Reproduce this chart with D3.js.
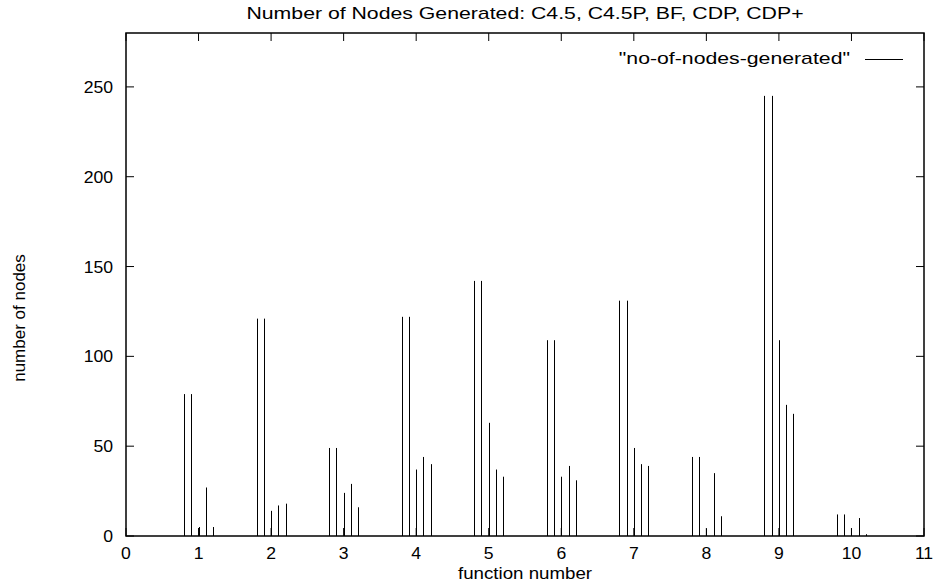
<!DOCTYPE html>
<html>
<head>
<meta charset="utf-8">
<script src="https://cdn.jsdelivr.net/npm/d3@7"></script>
<style>
  body { margin: 0; background: #fff; }
  svg { display: block; font-family: "Liberation Sans", Arial, sans-serif; }
</style>
</head>
<body>
<div id="chart"></div>
<script>
// function numbers along the x axis, and where each of the 5 algorithms sits around it
const functionNumbers = [1, 2, 3, 4, 5, 6, 7, 8, 9, 10];
const algorithmOffsets = [-0.2, -0.1, 0, 0.1, 0.2]; // C4.5, C4.5P, BF, CDP, CDP+

// nodes generated, one row per function: C4.5, C4.5P, BF, CDP, CDP+
const nodesGenerated = [
  [79, 79, 5, 27, 5],
  [121, 121, 14, 17, 18],
  [49, 49, 24, 29, 16],
  [122, 122, 37, 44, 40],
  [142, 142, 63, 37, 33],
  [109, 109, 33, 39, 31],
  [131, 131, 49, 40, 39],
  [44, 44, 4, 35, 11],
  [245, 245, 109, 73, 68],
  [12, 12, 4, 10, 1]
];

const xTicks = d3.range(0, 12);
const yTicks = [0, 50, 100, 150, 200, 250];

const width = 937, height = 586;
const margin = { top: 33, right: 13, bottom: 50, left: 126 };
const innerW = width - margin.left - margin.right,
    innerH = height - margin.top - margin.bottom;

const svg = d3.select('#chart').append('svg')
  .attr('width', width)
  .attr('height', height);

const x = d3.scaleLinear().domain([0, 11]).range([0, innerW]);
const y = d3.scaleLinear().domain([0, 280]).range([innerH, 0]);

const g = svg.append('g').attr('transform', 'translate(' + margin.left + ',' + margin.top + ')');

// the original output is stretched sideways, so text gets a bit of x scaling
function label(parent, px, py, txt, size, sx, anchor, rot) {
  return parent.append('text')
    .attr('transform', 'translate(' + px + ',' + py + ')' + (rot ? ' rotate(' + rot + ')' : '') + ' scale(' + sx + ',1)')
    .attr('text-anchor', anchor || 'middle')
    .attr('font-size', size)
    .text(txt);
}

// flatten into impulses
const impulses = [];
functionNumbers.forEach(function(f, i) {
  algorithmOffsets.forEach(function(o, j) {
    impulses.push({ x: f + o, v: nodesGenerated[i][j] });
  });
});

// ticks: gnuplot style, inward, mirrored on all 4 sides
const tickLen = 8;
const axes = g.append('g').attr('stroke', '#000').attr('stroke-width', 1);
xTicks.forEach(function(t) {
  axes.append('line').attr('x1', x(t)).attr('x2', x(t)).attr('y1', innerH).attr('y2', innerH - tickLen);
  axes.append('line').attr('x1', x(t)).attr('x2', x(t)).attr('y1', 0).attr('y2', tickLen);
});
yTicks.forEach(function(t) {
  axes.append('line').attr('x1', 0).attr('x2', tickLen).attr('y1', y(t)).attr('y2', y(t));
  axes.append('line').attr('x1', innerW).attr('x2', innerW - tickLen).attr('y1', y(t)).attr('y2', y(t));
});

// impulses
g.append('g').selectAll('line')
  .data(impulses)
  .enter().append('line')
    .attr('x1', function(d) { return Math.round(x(d.x)) + 0.5; })
    .attr('x2', function(d) { return Math.round(x(d.x)) + 0.5; })
    .attr('y1', y(0))
    .attr('y2', function(d) { return y(d.v); })
    .attr('stroke', '#000')
    .attr('stroke-width', 1);

// frame
g.append('rect')
  .attr('width', innerW).attr('height', innerH)
  .attr('fill', 'none').attr('stroke', '#000').attr('stroke-width', 1.5);

// tick labels
xTicks.forEach(function(t) {
  label(g, x(t), innerH + 23, t, 16, 1.1, 'middle');
});
yTicks.forEach(function(t) {
  label(g, -13, y(t) + 6, t, 16, 1.1, 'end');
});

// titles
label(svg, margin.left + innerW / 2, 19, 'Number of Nodes Generated: C4.5, C4.5P, BF, CDP, CDP+', 17, 1.25, 'middle');
label(svg, margin.left + innerW / 2, 579, 'function number', 17, 1.1, 'middle');
label(svg, 25, 318, 'number of nodes', 17, 1.0, 'middle', -90);

// key
label(g, 724, 64 - margin.top, '"no-of-nodes-generated"', 17, 1.25, 'end');
g.append('line')
  .attr('x1', 739).attr('x2', 777)
  .attr('y1', 59.5 - margin.top).attr('y2', 59.5 - margin.top)
  .attr('stroke', '#000').attr('stroke-width', 1);
</script>
</body>
</html>
